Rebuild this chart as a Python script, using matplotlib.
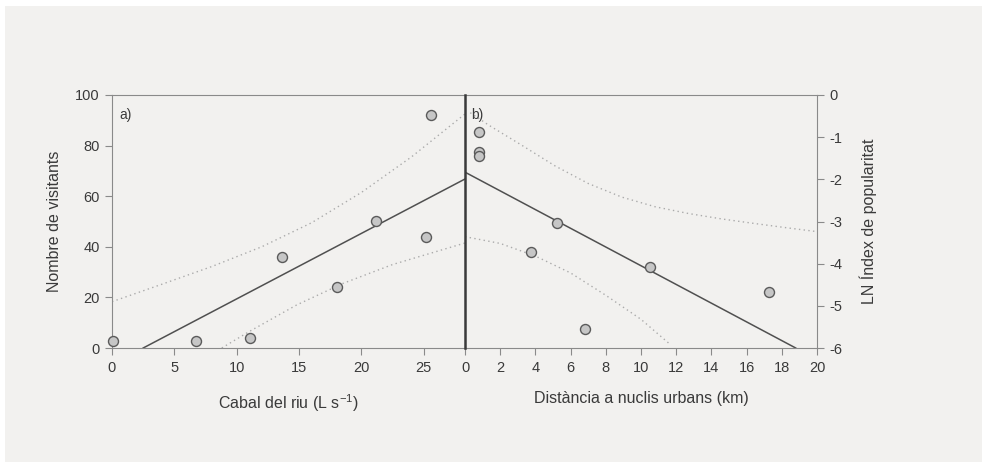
import matplotlib
matplotlib.use("Agg")
import matplotlib.pyplot as plt
from matplotlib.patches import Rectangle

# a) river flow vs number of visitors
flowX = [0.1, 6.7, 11.1, 13.6, 18.05, 21.2, 25.2, 25.6]
visitorsY = [2.9, 2.9, 4.1, 36.1, 24.0, 50.2, 44.0, 92.1]
fitA_X = [2.5, 28.3]
fitA_Y = [0.0, 66.8]
upperA_X = [0.0, 4.0, 8.0, 12.0, 16.0, 20.0, 24.0, 28.3]
upperA_Y = [18.3, 25.2, 32.2, 40.0, 49.5, 61.5, 75.5, 92.5]
lowerA_X = [8.8, 11.0, 14.8, 18.5, 22.5, 28.3]
lowerA_Y = [0.0, 6.5, 17.0, 25.5, 33.0, 41.5]

# b) distance to urban centres vs LN popularity index
distX = [0.81, 0.81, 0.81, 3.73, 5.21, 6.82, 10.53, 17.29]
popY = [-0.87, -1.34, -1.45, -3.72, -3.03, -5.56, -4.08, -4.68]
fitB_X = [0.0, 18.79]
fitB_Y = [-1.83, -6.0]
upperB_X = [0.3, 1.33, 3.22, 5.11, 7.01, 8.9, 10.8, 12.69, 14.6, 16.5, 18.3, 20.0]
upperB_Y = [-0.42, -0.71, -1.19, -1.68, -2.10, -2.42, -2.65, -2.81, -2.94, -3.05, -3.15, -3.24]
lowerB_X = [0.0, 2.0, 4.0, 6.0, 8.0, 10.0, 11.7]
lowerB_Y = [-3.36, -3.52, -3.82, -4.22, -4.75, -5.32, -5.93]

bg = '#f2f1ef'
spineColor = '#8a8a8a'
textColor = '#3a3a3a'
plt.rcParams['font.family'] = ['Liberation Sans', 'DejaVu Sans']
plt.rcParams['font.size'] = 10.5
plt.rcParams['axes.unicode_minus'] = False

fig = plt.figure(figsize=(9.82, 4.62), dpi=100, facecolor='white')
fig.patches.append(Rectangle((5 / 982, 0), 1, 1 - 6 / 462, transform=fig.transFigure,
                             facecolor=bg, edgecolor='none', zorder=-10))

axA = fig.add_axes([112 / 982, 1 - 348 / 462, (465 - 112) / 982, (348 - 95) / 462])
axB = fig.add_axes([465 / 982, 1 - 348 / 462, (817 - 465) / 982, (348 - 95) / 462])

markerStyle = dict(linestyle='none', marker='o', markersize=7.2, markerfacecolor='#c6c6c6',
                   markeredgecolor='#5a5a5a', markeredgewidth=1.0, zorder=5)
dotStyle = dict(color='#ababab', linestyle=(0, (1, 2.4)), linewidth=1.0)
labelSize = 11.5

#------------- Panel a
axA.set_facecolor(bg)
axA.plot(upperA_X, upperA_Y, **dotStyle)
axA.plot(lowerA_X, lowerA_Y, **dotStyle)
axA.plot(fitA_X, fitA_Y, color='#505050', linewidth=1.1)
axA.plot(flowX, visitorsY, clip_on=False, **markerStyle)
axA.set_xlim(0, 28.3)
axA.set_ylim(0, 100)
axA.set_xticks([0, 5, 10, 15, 20, 25])
axA.set_yticks([0, 20, 40, 60, 80, 100])
axA.set_xlabel('Cabal del riu (L s$^{\\mathregular{-1}}$)', fontsize=labelSize, color=textColor, labelpad=13)
axA.set_ylabel('Nombre de visitants', fontsize=labelSize, color=textColor, labelpad=9)
axA.text(0.022, 0.95, 'a)', transform=axA.transAxes, ha='left', va='top', color=textColor,
         fontsize=10)
for side in ['left', 'top', 'bottom']:
    axA.spines[side].set_color(spineColor)
axA.spines['right'].set_visible(False)
axA.tick_params(direction='out', length=5, color=spineColor, labelcolor=textColor, pad=4)

#------------- Panel b
axB.set_facecolor('none')
axB.plot(upperB_X, upperB_Y, **dotStyle)
axB.plot(lowerB_X, lowerB_Y, **dotStyle)
axB.plot(fitB_X, fitB_Y, color='#505050', linewidth=1.1)
axB.plot(distX, popY, **markerStyle)
axB.set_xlim(0, 20)
axB.set_ylim(-6, 0)
axB.set_xticks(range(0, 21, 2))
axB.set_yticks(range(-6, 1))
axB.yaxis.tick_right()
axB.yaxis.set_label_position('right')
axB.set_xlabel('Distància a nuclis urbans (km)', fontsize=labelSize, color=textColor, labelpad=12)
axB.set_ylabel('LN Índex de popularitat', fontsize=labelSize, color=textColor, labelpad=12,
               rotation=90)
axB.text(0.018, 0.95, 'b)', transform=axB.transAxes, ha='left', va='top', color=textColor,
         fontsize=10)
axB.spines['left'].set_color('#3a3a3a')
axB.spines['left'].set_linewidth(1.8)
axB.spines['left'].set_zorder(10)
for side in ['right', 'top', 'bottom']:
    axB.spines[side].set_color(spineColor)
axB.tick_params(direction='out', length=5, color=spineColor, labelcolor=textColor, pad=4)

fig.savefig('out.png', dpi=100, facecolor=fig.get_facecolor())
